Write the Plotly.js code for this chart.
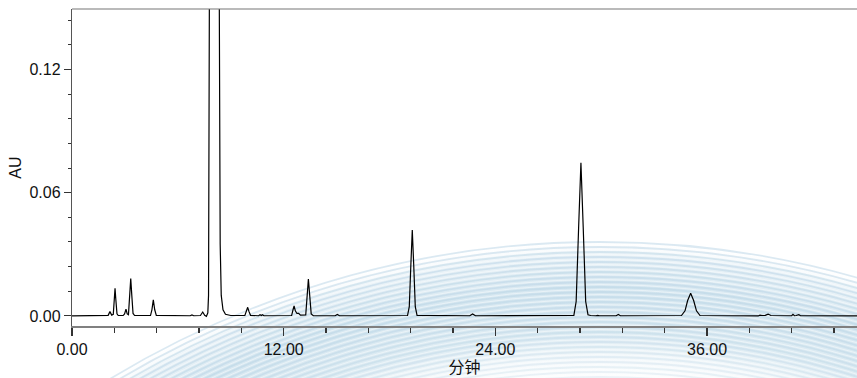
<!DOCTYPE html>
<html>
<head>
<meta charset="utf-8">
<script src="https://cdn.plot.ly/plotly-3.0.1.min.js"></script>
<style>
  html, body { margin: 0; padding: 0; background: #fff; }
  #wrap { position: relative; width: 857px; height: 378px; overflow: hidden; }
  #bg { position: absolute; left: 0; top: 0; }
  #chart { position: absolute; left: 0; top: 0; width: 857px; height: 378px; }
</style>
</head>
<body>
<div id="wrap">
  <svg id="bg" width="857" height="378" xmlns="http://www.w3.org/2000/svg"></svg>
  <div id="chart"></div>
</div>
<script>
// Retention time (min) and absorbance (AU) of the chromatogram trace
const timeMin = [
  0.00, 1.90, 2.05, 2.15, 2.25, 2.34, 2.40, 2.44, 2.48, 2.55, 2.62,
  2.90, 2.98, 3.06, 3.13, 3.20, 3.27, 3.33, 3.39, 3.46, 3.55,
  4.45, 4.53, 4.61, 4.69, 4.78,
  6.70, 6.80, 6.90, 7.28, 7.41, 7.52, 7.62,
  7.70, 7.74, 7.76, 7.78, 7.90, 8.05, 8.20, 8.33, 8.36, 8.40, 8.46, 8.56, 8.70, 9.00,
  9.80, 9.90, 9.96, 10.03, 10.12,
  10.58, 10.66, 10.73, 10.80, 10.88,
  12.45, 12.53, 12.59, 12.66, 12.75, 12.85, 12.95,
  13.25, 13.33, 13.40, 13.47, 13.56, 13.68,
  14.92, 15.04, 15.16,
  19.02, 19.12, 19.21, 19.29, 19.37, 19.46, 19.56,
  22.55, 22.71, 22.87,
  28.45, 28.58, 28.72, 28.85, 28.98, 29.12, 29.25, 29.40,
  29.70, 29.80, 29.90, 30.85, 30.97, 31.09,
  34.55, 34.75, 34.90, 35.07, 35.24, 35.40, 35.60,
  38.90, 39.00, 39.12, 39.30, 39.46, 39.62,
  40.80, 40.87, 40.95, 41.05, 41.20, 41.30,
  42.10, 42.20, 42.30, 44.50
];
const absorbanceAU = [
  0.0000, 0.0000, 0.0003, 0.0021, 0.0004, 0.0008, 0.0085, 0.0135, 0.0085, 0.0010, 0.0002,
  0.0002, 0.0010, 0.0033, 0.0010, 0.0006, 0.0100, 0.0182, 0.0100, 0.0012, 0.0002,
  0.0002, 0.0030, 0.0078, 0.0030, 0.0003,
  0.0001, 0.0005, 0.0001, 0.0002, 0.0019, 0.0003, -0.0002,
  0.0015, 0.0100, 0.0800, 0.2000, 0.5000, 0.6000, 0.5000, 0.2000, 0.1000, 0.0350, 0.0100, 0.0030, 0.0008, 0.0002,
  0.0002, 0.0022, 0.0042, 0.0022, 0.0003,
  0.0001, 0.0006, 0.0002, 0.0006, 0.0001,
  0.0002, 0.0030, 0.0049, 0.0025, 0.0012, 0.0013, 0.0004,
  0.0005, 0.0105, 0.0179, 0.0105, 0.0010, 0.0001,
  0.0001, 0.0007, 0.0001,
  0.0002, 0.0045, 0.0250, 0.0418, 0.0250, 0.0045, 0.0003,
  0.0001, 0.0010, 0.0001,
  0.0003, 0.0070, 0.0430, 0.0746, 0.0430, 0.0070, 0.0006, 0.0002,
  0.0001, 0.0003, 0.0001, 0.0001, 0.0007, 0.0001,
  0.0002, 0.0025, 0.0075, 0.0110, 0.0075, 0.0025, 0.0002,
  0.0000, 0.0004, 0.0002, 0.0003, 0.0009, 0.0002,
  0.0001, 0.0008, 0.0001, 0.0002, 0.0006, 0.0001,
  0.0001, 0.0003, 0.0000, 0.0000
];

const xTickVals = [0, 12, 24, 36];
const xTickText = ['0.00', '12.00', '24.00', '36.00'];
const yTickVals = [0, 0.06, 0.12];
const yTickText = ['0.00', '0.06', '0.12'];

// Decorative background: concentric pale-blue arcs
(function drawBackdrop() {
  const svg = document.getElementById('bg');
  const ns = 'http://www.w3.org/2000/svg';
  const cx = 600, cy = 1186;
  const defs = document.createElementNS(ns, 'defs');
  defs.innerHTML =
    '<radialGradient id="ring" gradientUnits="userSpaceOnUse" cx="' + cx + '" cy="' + cy + '" r="945">' +
    '<stop offset="0.84" stop-color="#ffffff" stop-opacity="0"/>' +
    '<stop offset="0.90" stop-color="#d2e5ef" stop-opacity="0.75"/>' +
    '<stop offset="0.95" stop-color="#cfe3ee" stop-opacity="0.85"/>' +
    '<stop offset="0.985" stop-color="#e2eef5" stop-opacity="0.7"/>' +
    '<stop offset="1" stop-color="#ffffff" stop-opacity="0"/>' +
    '</radialGradient>';
  svg.appendChild(defs);
  const disk = document.createElementNS(ns, 'circle');
  disk.setAttribute('cx', cx); disk.setAttribute('cy', cy); disk.setAttribute('r', 945);
  disk.setAttribute('fill', 'url(#ring)');
  svg.appendChild(disk);
  for (let r = 944; r > 760; r -= 5) {
    const c = document.createElementNS(ns, 'circle');
    c.setAttribute('cx', cx); c.setAttribute('cy', cy); c.setAttribute('r', r);
    c.setAttribute('fill', 'none');
    const a = 0.12 + 0.28 * (r - 760) / 185;
    c.setAttribute('stroke', 'rgba(165,200,222,' + a.toFixed(3) + ')');
    c.setAttribute('stroke-width', '1.8');
    svg.appendChild(c);
    const w = document.createElementNS(ns, 'circle');
    w.setAttribute('cx', cx); w.setAttribute('cy', cy); w.setAttribute('r', r - 2.5);
    w.setAttribute('fill', 'none');
    w.setAttribute('stroke', 'rgba(255,255,255,0.45)');
    w.setAttribute('stroke-width', '1');
    svg.appendChild(w);
  }
})();

const trace = {
  x: timeMin,
  y: absorbanceAU,
  type: 'scatter',
  mode: 'lines',
  line: { color: '#000000', width: 1.2 },
  hoverinfo: 'x+y'
};

const baseFont = { family: 'Liberation Sans, Arial, sans-serif', size: 16, color: '#111' };

const layout = {
  width: 857,
  height: 378,
  margin: { l: 72, r: 0, t: 9, b: 52 },
  paper_bgcolor: 'rgba(0,0,0,0)',
  plot_bgcolor: 'rgba(0,0,0,0)',
  showlegend: false,
  font: baseFont,
  xaxis: {
    range: [0, 44.5],
    tickmode: 'array',
    tickvals: xTickVals,
    ticktext: xTickText,
    ticks: 'outside',
    ticklen: 8,
    tickwidth: 1.2,
    tickcolor: '#333',
    minor: { dtick: 2.4, tick0: 0, ticks: 'outside', ticklen: 5, tickwidth: 1.2, tickcolor: '#333', showgrid: false },
    showline: true,
    linecolor: '#808080',
    linewidth: 2,
    showgrid: false,
    zeroline: false,
    tickfont: baseFont,
    title: { text: '分钟', font: { family: 'Noto Sans CJK SC, sans-serif', size: 16, color: '#111' }, standoff: 0 }
  },
  yaxis: {
    range: [-0.0049, 0.1494],
    tickmode: 'array',
    tickvals: yTickVals,
    ticktext: yTickText,
    ticks: 'outside',
    ticklen: 7,
    tickwidth: 1,
    tickcolor: '#333',
    minor: { dtick: 0.012, tick0: 0, ticks: 'outside', ticklen: 3, tickwidth: 1, tickcolor: '#333', showgrid: false },
    showline: true,
    linecolor: '#555',
    linewidth: 1.2,
    showgrid: false,
    zeroline: false,
    tickfont: baseFont,
    title: { text: 'AU', font: baseFont, standoff: 3 }
  },
  shapes: [
    { type: 'line', xref: 'paper', yref: 'paper', x0: 0, x1: 1, y0: 1, y1: 1,
      line: { color: '#777', width: 1.2 } }
  ]
};

Plotly.newPlot('chart', [trace], layout, { displayModeBar: false, staticPlot: true });
</script>
</body>
</html>
